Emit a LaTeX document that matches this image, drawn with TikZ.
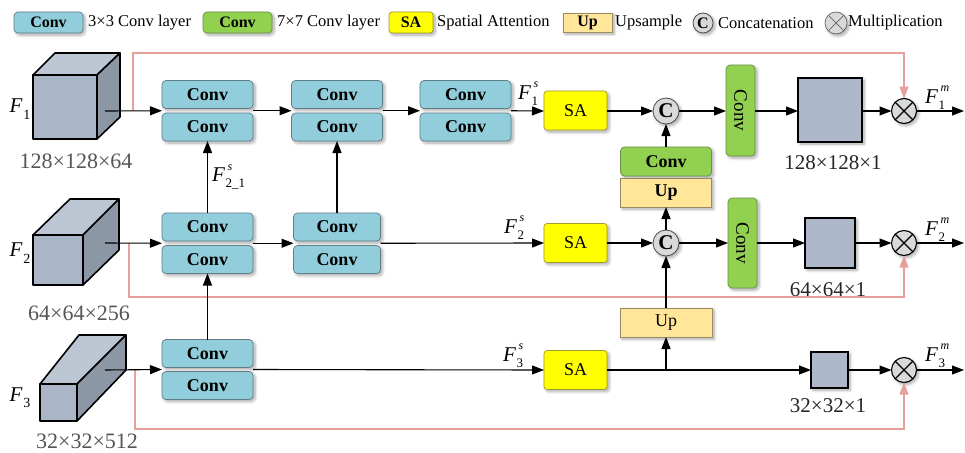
\documentclass[tikz,border=0pt]{standalone}
\usepackage{fontspec}
\setmainfont{Liberation Serif}
\usetikzlibrary{arrows.meta,calc,shadows.blur}

\definecolor{convblue}{HTML}{92CDDC}
\definecolor{convedge}{HTML}{5F7F88}
\definecolor{convgreen}{HTML}{92D050}
\definecolor{greenedge}{HTML}{6A8F4A}
\definecolor{sayellow}{HTML}{FFFF00}
\definecolor{saedge}{HTML}{A09A30}
\definecolor{upfill}{HTML}{FFE699}
\definecolor{upedge}{HTML}{9A8A60}
\definecolor{skipred}{HTML}{E6A09C}
\definecolor{cubefront}{HTML}{AAB5C7}
\definecolor{cubetop}{HTML}{BDC7D4}
\definecolor{cubeside}{HTML}{8C97A5}
\definecolor{mapfill}{HTML}{ADB8CA}
\definecolor{dimgray}{HTML}{555555}
\definecolor{opfill}{HTML}{D9D9D9}

% feature symbol F with subscript and superscript
\newcommand{\Fvar}[2]{\textit{F}\kern0.5pt\rlap{\kern2pt\raisebox{0.55em}{\fontsize{12}{12}\selectfont\itshape #2}}\raisebox{-0.3em}{\fontsize{13}{13}\selectfont #1}}
\newcommand{\Fin}[1]{\textit{F}\kern0.5pt\raisebox{-0.3em}{\fontsize{14}{14}\selectfont #1}}

\tikzset{
  shade/.style={blur shadow={shadow xshift=2pt,shadow yshift=-2pt,shadow blur radius=3pt,shadow blur steps=6,shadow opacity=35}},
  box/.style={rectangle,inner sep=0pt,outer sep=0pt,shade},
  conv3/.style={box,rounded corners=4pt,fill=convblue,draw=convedge,line width=0.7pt,
    minimum width=91pt,minimum height=28pt,font=\fontsize{18}{18}\selectfont\bfseries},
  conv7/.style={box,rounded corners=4pt,fill=convgreen,draw=greenedge,line width=0.7pt,
    minimum width=91pt,minimum height=29pt,font=\fontsize{18}{18}\selectfont\bfseries},
  conv7v/.style={conv7,minimum width=29pt,minimum height=91pt,font=\fontsize{19}{19}\selectfont},
  sabox/.style={box,rounded corners=3pt,fill=sayellow,draw=saedge,line width=0.7pt,
    minimum width=63pt,minimum height=39pt,font=\fontsize{18}{18}\selectfont},
  upbox/.style={box,fill=upfill,draw=upedge,line width=0.7pt,
    minimum width=91pt,minimum height=29pt,font=\fontsize{18}{18}\selectfont},
  catop/.style={circle,inner sep=0pt,outer sep=0pt,fill=opfill,draw=black!70,line width=0.8pt,
    minimum size=26pt,font=\fontsize{21}{21}\selectfont\bfseries,shade},
  mulop/.style={circle,inner sep=0pt,outer sep=0pt,fill=opfill,draw=black,line width=1.1pt,
    minimum size=25pt,shade},
  mapbox/.style={rectangle,inner sep=0pt,outer sep=0pt,fill=mapfill,draw=black,line width=1.3pt,shade},
  cubeline/.style={draw=black,line width=1.6pt,line join=round},
  arr/.style={draw=black,line width=1.1pt,-{Triangle[length=12pt,width=9pt]}},
  skip/.style={draw=skipred,line width=1.1pt,-{Triangle[length=12pt,width=9pt]}},
  legtext/.style={anchor=west,inner sep=0pt,font=\fontsize{16.5}{16.5}\selectfont},
  dimleft/.style={text=dimgray,inner sep=0pt,font=\fontsize{22}{22}\selectfont},
  dimright/.style={text=black!85,inner sep=0pt,font=\fontsize{21}{21}\selectfont},
  flabel/.style={inner sep=0pt,font=\fontsize{21}{21}\selectfont},
}

\begin{document}
\begin{tikzpicture}[x=1pt,y=-1pt]
\useasboundingbox (0,0) rectangle (965,452);

% ---------------- legend ----------------
\node[conv3,minimum width=69pt,minimum height=21pt,font=\fontsize{16}{16}\selectfont\bfseries] (lg1) at (48.5,22.5) {Conv};
\node[legtext] at (88,23) {3×3 Conv layer};
\node[conv7,minimum width=69pt,minimum height=21pt,font=\fontsize{16}{16}\selectfont\bfseries] (lg2) at (237.5,22.5) {Conv};
\node[legtext] at (277,23) {7×7 Conv layer};
\node[sabox,minimum width=44pt,minimum height=21pt,font=\fontsize{16}{16}\selectfont\bfseries] (lg3) at (411,22.5) {SA};
\node[legtext] at (437,23) {Spatial Attention};
\node[upbox,minimum width=49pt,minimum height=19pt,font=\fontsize{16}{16}\selectfont\bfseries] (lg4) at (587.5,22.5) {Up};
\node[legtext] at (615,23) {Upsample};
\node[catop,minimum size=20pt,font=\fontsize{16}{16}\selectfont\bfseries] (lg5) at (703,23) {C};
\node[legtext] at (718,23) {Concatenation};
\node[mulop,minimum size=22pt,line width=0.7pt,draw=black!60] (lg6) at (836,23) {};
\draw[black!60,line width=0.7pt] (lg6.north east) -- (lg6.south west) (lg6.north west) -- (lg6.south east);
\node[legtext] at (848,23) {Multiplication};

% ---------------- input feature cubes ----------------
% F1
\filldraw[cubeline,fill=cubetop] (33,75) -- (55,53) -- (120,53) -- (97,75) -- cycle;
\filldraw[cubeline,fill=cubeside] (97,75) -- (120,53) -- (120,117) -- (97,139) -- cycle;
\filldraw[cubeline,fill=cubefront] (33,75) rectangle (97,139);
% F2
\filldraw[cubeline,fill=cubetop] (33,235) -- (70,199) -- (119,199) -- (83,235) -- cycle;
\filldraw[cubeline,fill=cubeside] (83,235) -- (119,199) -- (119,250) -- (83,285) -- cycle;
\filldraw[cubeline,fill=cubefront] (33,235) rectangle (83,285);
% F3
\filldraw[cubeline,fill=cubetop] (40,384) -- (79,335) -- (126,335) -- (77,384) -- cycle;
\filldraw[cubeline,fill=cubeside] (77,384) -- (126,335) -- (126,370) -- (77,421) -- cycle;
\filldraw[cubeline,fill=cubefront] (40,384) rectangle (77,421);

\node[flabel] (lf1) at (20,109) {\Fin{1}};
\node[flabel] (lf2) at (20,253) {\Fin{2}};
\node[flabel] (lf3) at (20,398) {\Fin{3}};
\node[dimleft] (d1) at (76,161) {128×128×64};
\node[dimleft] (d2) at (79,313) {64×64×256};
\node[dimleft] (d3) at (87,441) {32×32×512};

\coordinate (f1) at (105,111);
\coordinate (f2) at (105,243);
\coordinate (f3) at (105,370);
\coordinate (s1) at (133,111);
\coordinate (s2) at (129,243);
\coordinate (s3) at (135,370);

% ---------------- 3x3 conv pairs ----------------
\node[conv3] (c11t) at (207.5,94.5) {Conv};
\node[conv3] (c11b) at (207.5,127) {Conv};
\node[conv3] (c12t) at (337,94.5) {Conv};
\node[conv3] (c12b) at (337,127) {Conv};
\node[conv3] (c13t) at (465.5,94.5) {Conv};
\node[conv3] (c13b) at (465.5,127) {Conv};

\node[conv3] (c21t) at (207.5,227) {Conv};
\node[conv3] (c21b) at (207.5,259.5) {Conv};
\node[conv3,minimum width=87pt] (c22t) at (337,227) {Conv};
\node[conv3,minimum width=87pt] (c22b) at (337,259.5) {Conv};

\node[conv3] (c31t) at (207.5,353.5) {Conv};
\node[conv3] (c31b) at (207.5,385.5) {Conv};

% ---------------- attention and fusion ----------------
\node[sabox] (sa1) at (575.5,110.5) {SA};
\node[sabox] (sa2) at (575.5,243) {SA};
\node[sabox] (sa3) at (575.5,370) {SA};

\node[catop] (cat1) at (666,111) {C};
\node[catop] (cat2) at (666,243) {C};

\node[conv7] (gc) at (666,161.5) {Conv};
\node[upbox,font=\fontsize{18}{18}\selectfont\bfseries] (up1) at (666,192.5) {Up};
\node[upbox,minimum width=92pt] (up2) at (666,322.5) {Up};

\node[conv7v] (g1) at (740.5,110.5) {\rotatebox{-90}{Conv}};
\node[conv7v,minimum height=90pt] (g2) at (742.5,243) {\rotatebox{-90}{Conv}};

\node[mapbox,minimum width=64pt,minimum height=64pt] (m1) at (830,110) {};
\node[mapbox,minimum width=50pt,minimum height=50pt] (m2) at (830,243) {};
\node[mapbox,minimum width=37pt,minimum height=36pt] (m3) at (829.5,370) {};
\node[dimright] (dm1) at (833,163) {128×128×1};
\node[dimright] (dm2) at (828,290) {64×64×1};
\node[dimright] (dm3) at (828,406) {32×32×1};

\node[mulop] (ot1) at (904,111) {};
\node[mulop] (ot2) at (904,243) {};
\node[mulop] (ot3) at (904,370) {};
\foreach \o in {ot1,ot2,ot3}
  \draw[black,line width=1.1pt] (\o.north east) -- (\o.south west) (\o.north west) -- (\o.south east);

\coordinate (o1) at (964,111);
\coordinate (o2) at (964,243);
\coordinate (o3) at (964,370);

% ---------------- skip connections ----------------
\draw[skip] (s1) -- (133,53) -| (ot1.north);
\draw[skip] (s2) -- (129,297) -| (ot2.south);
\draw[skip] (s3) -- (135,429) -| (ot3.south);

% ---------------- level 1 ----------------
\draw[arr] (f1) -- ($(c11t.south west)!.5!(c11b.north west)$);
\draw[arr] ($(c11t.south east)!.5!(c11b.north east)$) -- ($(c12t.south west)!.5!(c12b.north west)$);
\draw[arr] ($(c12t.south east)!.5!(c12b.north east)$) -- ($(c13t.south west)!.5!(c13b.north west)$);
\draw[arr] ($(c13t.south east)!.5!(c13b.north east)$) -- (sa1.west |- cat1);
\draw[arr] (sa1.east |- cat1) -- (cat1.west);
\draw[arr] (cat1.east) -- (g1.west |- cat1);
\draw[arr] (g1.east |- cat1) -- (m1.west |- cat1);
\draw[arr] (m1.east |- cat1) -- (ot1.west);
\draw[arr] (ot1.east) -- (o1);

% ---------------- level 2 ----------------
\draw[arr] (f2) -- ($(c21t.south west)!.5!(c21b.north west)$);
\draw[arr] ($(c21t.south east)!.5!(c21b.north east)$) -- ($(c22t.south west)!.5!(c22b.north west)$);
\draw[arr] ($(c22t.south east)!.5!(c22b.north east)$) -- (sa2.west);
\draw[arr] (sa2.east) -- (cat2.west);
\draw[arr] (cat2.east) -- (g2.west);
\draw[arr] (g2.east) -- (m2.west);
\draw[arr] (m2.east) -- (ot2.west);
\draw[arr] (ot2.east) -- (o2);

% ---------------- level 3 ----------------
\draw[arr] (f3) -- ($(c31t.south west)!.5!(c31b.north west)$);
\draw[arr] ($(c31t.south east)!.5!(c31b.north east)$) -- (sa3.west);
\draw[arr] (sa3.east) -- (m3.west);
\draw[arr] (m3.east) -- (ot3.west);
\draw[arr] (ot3.east) -- (o3);

% ---------------- vertical paths ----------------
\draw[arr] (c21t.north) -- (c11b.south);
\draw[arr] (c22t.north) -- (c12b.south);
\draw[arr] (c31t.north) -- (c21b.south);
\draw[arr] (up2.south |- sa3.east) -- (up2.south);
\draw[arr] (up2.north) -- (cat2.south);
\draw[arr] (cat2.north) -- (up1.south);
\draw[arr] (gc.north) -- (cat1.south);

% ---------------- feature labels ----------------
\node[flabel,anchor=west] (l21) at (212,177) {\Fvar{2\_1}{s}};
\node[flabel] (ls1) at (528,94) {\Fvar{1}{s}};
\node[flabel] (ls2) at (514,228) {\Fvar{2}{s}};
\node[flabel] (ls3) at (513,356) {\Fvar{3}{s}};
\node[flabel] (lm1) at (935,98) {\Fvar{1}{m}};
\node[flabel] (lm2) at (935,230) {\Fvar{2}{m}};
\node[flabel] (lm3) at (935,356) {\Fvar{3}{m}};
\end{tikzpicture}
\end{document}
